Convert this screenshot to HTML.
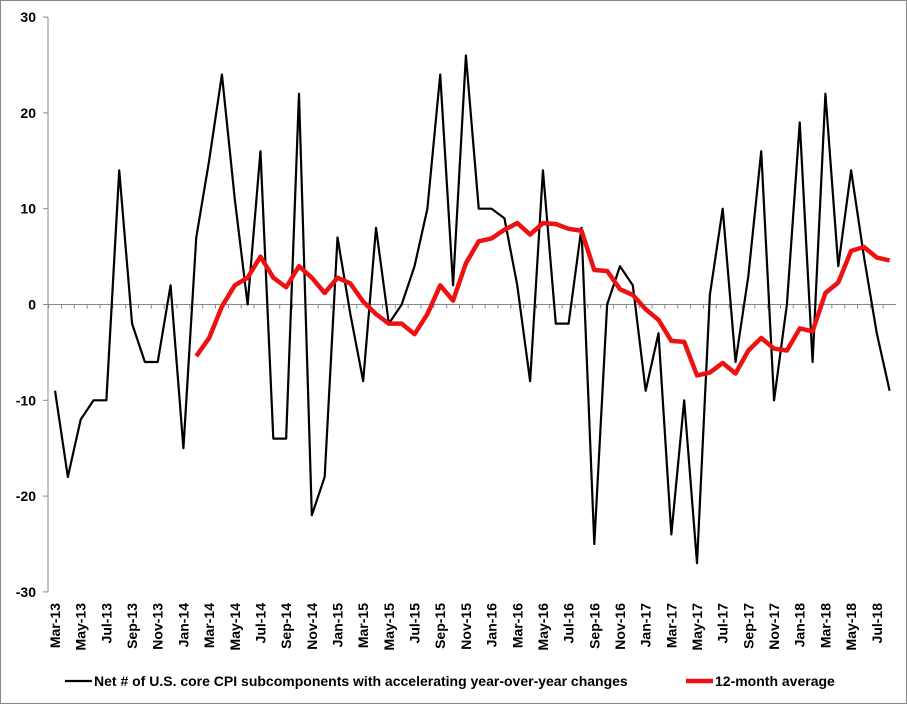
<!DOCTYPE html>
<html><head><meta charset="utf-8"><style>
body{margin:0;background:#fff}
svg{display:block;font-family:"Liberation Sans",sans-serif}
</style></head><body>
<svg id="c" width="907" height="704">
<rect x="0.5" y="0.5" width="906" height="703" fill="#fff" stroke="#888"/>
</svg>
<script>
const months=["Mar-13","Apr-13","May-13","Jun-13","Jul-13","Aug-13","Sep-13","Oct-13","Nov-13","Dec-13","Jan-14","Feb-14","Mar-14","Apr-14","May-14","Jun-14","Jul-14","Aug-14","Sep-14","Oct-14","Nov-14","Dec-14","Jan-15","Feb-15","Mar-15","Apr-15","May-15","Jun-15","Jul-15","Aug-15","Sep-15","Oct-15","Nov-15","Dec-15","Jan-16","Feb-16","Mar-16","Apr-16","May-16","Jun-16","Jul-16","Aug-16","Sep-16","Oct-16","Nov-16","Dec-16","Jan-17","Feb-17","Mar-17","Apr-17","May-17","Jun-17","Jul-17","Aug-17","Sep-17","Oct-17","Nov-17","Dec-17","Jan-18","Feb-18","Mar-18","Apr-18","May-18","Jun-18","Jul-18","Aug-18"];
const netValues=[-9,-18,-12,-10,-10,14,-2,-6,-6,2,-15,7,15,24,11,0,16,-14,-14,22,-22,-18,7,-1,-8,8,-2,0,4,10,24,2,26,10,10,9,2,-8,14,-2,-2,8,-25,0,4,2,-9,-3,-24,-10,-27,1,10,-6,3,16,-10,0,19,-6,22,4,14,5,-3,-9];
const avgStart=11;
const avgValues=[-5.4,-3.5,-0.2,2,2.8,5,2.8,1.8,4,2.8,1.2,2.8,2.2,0.3,-1,-2,-2,-3.1,-1,2,0.4,4.3,6.6,6.9,7.8,8.5,7.3,8.5,8.4,7.9,7.7,3.6,3.5,1.6,1,-0.5,-1.6,-3.8,-3.9,-7.4,-7.1,-6.1,-7.2,-4.8,-3.5,-4.6,-4.8,-2.5,-2.8,1.2,2.3,5.6,6,4.9,4.6];
const yTicks=[30,20,10,0,-10,-20,-30];
const svg=document.getElementById('c');const NS='http://www.w3.org/2000/svg';
const x0=48.6,cw=12.84;
const X=i=>x0+cw*(i+0.5);
const Y=v=>304.5-v*9.58;
function mk(t,a,p){const e=document.createElementNS(NS,t);for(const k in a)e.setAttribute(k,a[k]);(p||svg).appendChild(e);return e;}
let ax=mk('line',{x1:48,y1:Y(30),x2:48,y2:Y(-30),stroke:'#888'});


let zl=mk('line',{x1:48,y1:Y(0),x2:x0+cw*months.length,y2:Y(0),stroke:'#888'});


yTicks.forEach(v=>{
 let t=mk('line',{x1:43,y1:Y(v),x2:48,y2:Y(v),stroke:'#888'});
 
 
 let l=mk('text',{x:36,y:Y(v)+5,'text-anchor':'end','font-size':14,'font-weight':'bold'});
 l.textContent=v;
 
 
});
months.forEach((m,i)=>{
 let t=mk('line',{x1:x0+cw*i,y1:Y(0),x2:x0+cw*i,y2:Y(0)+4,stroke:'#888'});
 
 
 if(i%2==0){
  let l=mk('text',{x:0,y:0,'text-anchor':'end','font-size':14,'font-weight':'bold',transform:`translate(${X(i)+5},603) rotate(-90)`});
  l.textContent=m;
  
  
 }
});
let p1=mk('polyline',{points:netValues.map((v,i)=>X(i)+','+Y(v)).join(' '),fill:'none',stroke:'#000','stroke-width':2.2,'stroke-linejoin':'round'});


let p2=mk('polyline',{points:avgValues.map((v,i)=>X(i+avgStart)+','+Y(v)).join(' '),fill:'none',stroke:'#ee1111','stroke-width':4.5,'stroke-linejoin':'round'});


let lg=mk('g',{});


let l1=mk('line',{x1:65,y1:681,x2:92,y2:681,stroke:'#000','stroke-width':2.2},lg);


let t1=mk('text',{x:94,y:686,'font-size':14,'font-weight':'bold'},lg);
t1.textContent='Net # of U.S. core CPI subcomponents with accelerating year-over-year changes';


let l2=mk('line',{x1:686,y1:681,x2:713,y2:681,stroke:'#ee1111','stroke-width':4.5},lg);


let t2=mk('text',{x:715,y:686,'font-size':14,'font-weight':'bold'},lg);
t2.textContent='12-month average';


</script>
</body></html>
